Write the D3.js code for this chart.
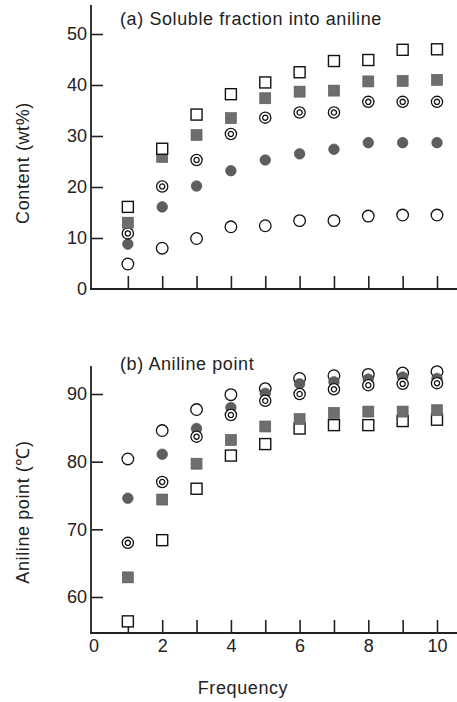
<!DOCTYPE html>
<html>
<head>
<meta charset="utf-8">
<script src="https://cdn.jsdelivr.net/npm/d3@7.9.0/dist/d3.min.js"></script>
<style>
  body { margin: 0; background: #fff; }
  svg text { font-family: "Liberation Sans", Arial, sans-serif; fill: #222; }
</style>
</head>
<body>
<svg id="chart" width="457" height="702"></svg>
<script>
// frequency (x) shared by both panels
const freq = [1, 2, 3, 4, 5, 6, 7, 8, 9, 10];

// (a) soluble fraction into aniline, wt%
const solOpenSquare   = [16.1, 27.5, 34.2, 38.2, 40.5, 42.5, 44.7, 44.9, 46.9, 47.0];
const solFilledSquare = [13.0, 25.9, 30.2, 33.5, 37.4, 38.7, 38.9, 40.7, 40.8, 41.0];
const solDoubleCircle = [10.9, 20.1, 25.3, 30.4, 33.6, 34.6, 34.6, 36.7, 36.7, 36.7];
const solFilledCircle = [8.8, 16.1, 20.2, 23.2, 25.3, 26.5, 27.4, 28.7, 28.7, 28.7];
const solOpenCircle   = [4.9, 8.0, 9.9, 12.2, 12.4, 13.4, 13.4, 14.3, 14.5, 14.5];

// (b) aniline point, deg C
const apOpenCircle   = [80.4, 84.6, 87.7, 89.9, 90.8, 92.3, 92.7, 92.9, 93.1, 93.3];
const apFilledCircle = [74.6, 81.1, 84.9, 88.0, 90.1, 91.5, 91.8, 92.2, 92.5, 92.3];
const apDoubleCircle = [68.0, 77.0, 83.7, 86.9, 89.0, 90.0, 90.7, 91.3, 91.5, 91.6];
const apFilledSquare = [62.9, 74.4, 79.7, 83.2, 85.2, 86.3, 87.2, 87.4, 87.4, 87.6];
const apOpenSquare   = [56.4, 68.4, 76.0, 80.9, 82.6, 84.9, 85.4, 85.4, 86.0, 86.2];

const ticksA = [0, 10, 20, 30, 40, 50];
const ticksB = [60, 70, 80, 90];
const xLabels = [0, 2, 4, 6, 8, 10];

const svg = d3.select('#chart');

const x = d3.scaleLinear().domain([0, 10]).range([93.5, 437]);
const yA = d3.scaleLinear().domain([0, 50]).range([289, 34]);
const yB = d3.scaleLinear().domain([60, 90]).range([597, 394]);

// draw one series with a given marker type
function drawSeries(g, values, y, type) {
  const pts = freq.map((f, i) => ({ f, v: values[i] }));
  const sel = g.append('g').selectAll('g').data(pts).join('g')
    .attr('transform', d => `translate(${x(d.f)},${y(d.v)})`);
  if (type === 'openSquare') {
    sel.append('rect').attr('x', -5.5).attr('y', -5.5).attr('width', 11).attr('height', 11)
      .attr('fill', '#fff').attr('stroke', '#111').attr('stroke-width', 1.4);
  } else if (type === 'filledSquare') {
    sel.append('rect').attr('x', -5.5).attr('y', -5.5).attr('width', 11).attr('height', 11)
      .attr('fill', '#6e6e6e').attr('stroke', '#555').attr('stroke-width', 0.6);
  } else if (type === 'openCircle') {
    sel.append('circle').attr('r', 5.8)
      .attr('fill', '#fff').attr('stroke', '#111').attr('stroke-width', 1.3);
  } else if (type === 'filledCircle') {
    sel.append('circle').attr('r', 5.3)
      .attr('fill', '#5e5e5e').attr('stroke', '#4a4a4a').attr('stroke-width', 0.6);
  } else if (type === 'doubleCircle') {
    sel.append('circle').attr('r', 5.6)
      .attr('fill', '#fff').attr('stroke', '#111').attr('stroke-width', 1.3);
    sel.append('circle').attr('r', 2.6)
      .attr('fill', 'none').attr('stroke', '#111').attr('stroke-width', 1.3);
  }
}

function styleAxis(g) {
  g.select('.domain').attr('stroke', '#222').attr('stroke-width', 1.8);
  g.selectAll('.tick line').attr('stroke', '#222').attr('stroke-width', 1.6);
  g.selectAll('.tick text').attr('font-size', 18).attr('fill', '#222')
    .attr('font-family', '"Liberation Sans", Arial, sans-serif');
}

// ---- panel (a)
const axA = svg.append('g');
axA.append('line').attr('x1', 91).attr('x2', 91).attr('y1', 5).attr('y2', 290)
  .attr('stroke', '#222').attr('stroke-width', 1.8);
axA.append('line').attr('x1', 90).attr('x2', 457).attr('y1', 289).attr('y2', 289)
  .attr('stroke', '#222').attr('stroke-width', 1.8);

const yAxisA = svg.append('g').attr('transform', 'translate(91,0)')
  .call(d3.axisLeft(yA).tickValues(ticksA).tickSize(-12).tickPadding(4));
yAxisA.select('.domain').remove();
styleAxis(yAxisA);
yAxisA.selectAll('.tick').filter(d => d === 0).select('line').remove();

const xAxisA = svg.append('g').attr('transform', 'translate(0,289)')
  .call(d3.axisBottom(x).tickValues(freq).tickSize(-13).tickFormat(''));
xAxisA.select('.domain').remove();
styleAxis(xAxisA);

drawSeries(svg, solOpenCircle, yA, 'openCircle');
drawSeries(svg, solFilledCircle, yA, 'filledCircle');
drawSeries(svg, solDoubleCircle, yA, 'doubleCircle');
drawSeries(svg, solFilledSquare, yA, 'filledSquare');
drawSeries(svg, solOpenSquare, yA, 'openSquare');

svg.append('text').attr('x', 120).attr('y', 25).attr('font-size', 18)
  .attr('letter-spacing', 0.6).text('(a) Soluble fraction into aniline');
svg.append('text').attr('transform', 'translate(29,163) rotate(-90)')
  .attr('text-anchor', 'middle').attr('font-size', 18).attr('letter-spacing', 0.6)
  .text('Content (wt%)');

// ---- panel (b)
const axB = svg.append('g');
axB.append('line').attr('x1', 91).attr('x2', 91).attr('y1', 366).attr('y2', 634)
  .attr('stroke', '#222').attr('stroke-width', 1.8);
axB.append('line').attr('x1', 90).attr('x2', 457).attr('y1', 633).attr('y2', 633)
  .attr('stroke', '#222').attr('stroke-width', 1.8);

const yAxisB = svg.append('g').attr('transform', 'translate(91,0)')
  .call(d3.axisLeft(yB).tickValues(ticksB).tickSize(-12).tickPadding(4));
yAxisB.select('.domain').remove();
styleAxis(yAxisB);

const xAxisB = svg.append('g').attr('transform', 'translate(0,633)')
  .call(d3.axisBottom(x).tickValues(freq).tickSize(-13).tickFormat(''));
xAxisB.select('.domain').remove();
styleAxis(xAxisB);

const xLab = svg.append('g').attr('transform', 'translate(0,633)')
  .call(d3.axisBottom(x).tickValues(xLabels).tickSize(0).tickPadding(6).tickFormat(d3.format('d')));
xLab.select('.domain').remove();
styleAxis(xLab);

drawSeries(svg, apOpenSquare, yB, 'openSquare');
drawSeries(svg, apFilledSquare, yB, 'filledSquare');
drawSeries(svg, apOpenCircle, yB, 'openCircle');
drawSeries(svg, apFilledCircle, yB, 'filledCircle');
drawSeries(svg, apDoubleCircle, yB, 'doubleCircle');

svg.append('text').attr('x', 120).attr('y', 370).attr('font-size', 18)
  .attr('letter-spacing', 0.6).text('(b) Aniline point');
svg.append('text').attr('transform', 'translate(29,512) rotate(-90)')
  .attr('text-anchor', 'middle').attr('font-size', 18).attr('letter-spacing', 0.6)
  .text('Aniline point (\u2103)');

svg.append('text').attr('x', 243).attr('y', 694).attr('text-anchor', 'middle')
  .attr('font-size', 18).attr('letter-spacing', 0.6).text('Frequency');
</script>
</body>
</html>
